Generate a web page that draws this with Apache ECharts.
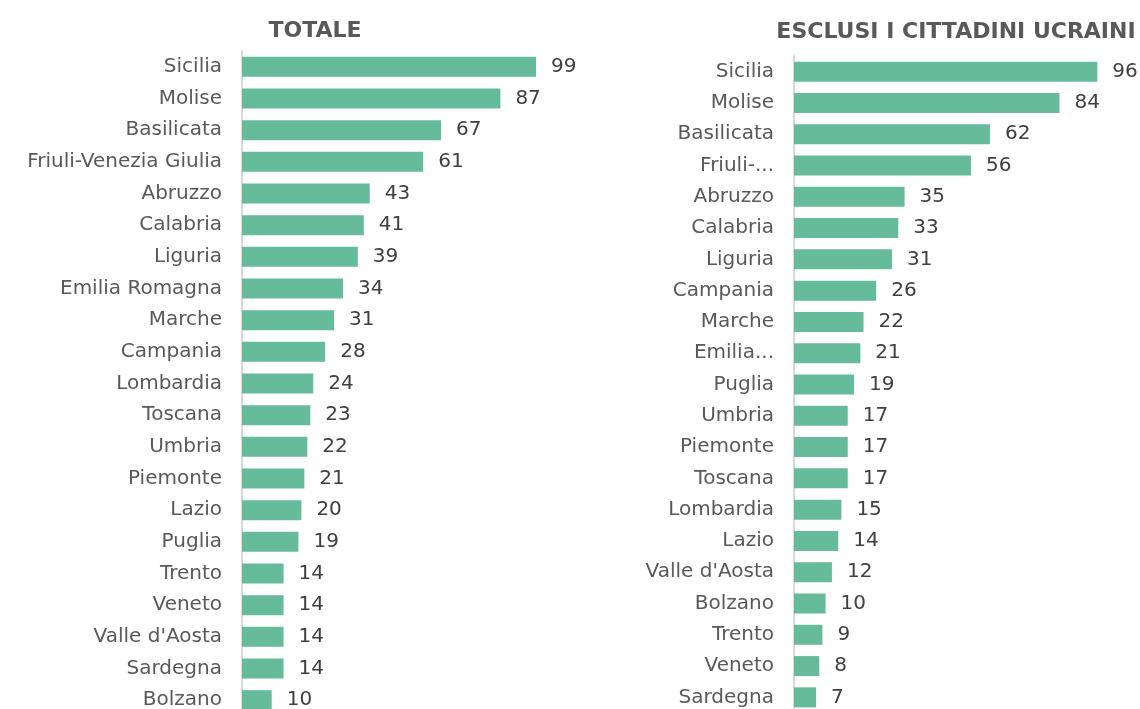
<!DOCTYPE html>
<html>
<head>
<meta charset="utf-8">
<script src="https://cdn.jsdelivr.net/npm/echarts@6/dist/echarts.min.js"></script>
<style>
  html, body { margin: 0; padding: 0; background: #fff; }
  #chart { width: 1140px; height: 709px; }
</style>
</head>
<body>
<div id="chart"></div>
<script>
var totCategories = ['Sicilia', 'Molise', 'Basilicata', 'Friuli-Venezia Giulia', 'Abruzzo', 'Calabria',
  'Liguria', 'Emilia Romagna', 'Marche', 'Campania', 'Lombardia', 'Toscana', 'Umbria', 'Piemonte',
  'Lazio', 'Puglia', 'Trento', 'Veneto', "Valle d'Aosta", 'Sardegna', 'Bolzano'];
var totValues = [99, 87, 67, 61, 43, 41, 39, 34, 31, 28, 24, 23, 22, 21, 20, 19, 14, 14, 14, 14, 10];

var exCategories = ['Sicilia', 'Molise', 'Basilicata', 'Friuli-...', 'Abruzzo', 'Calabria', 'Liguria',
  'Campania', 'Marche', 'Emilia...', 'Puglia', 'Umbria', 'Piemonte', 'Toscana', 'Lombardia', 'Lazio',
  "Valle d'Aosta", 'Bolzano', 'Trento', 'Veneto', 'Sardegna'];
var exValues = [96, 84, 62, 56, 35, 33, 31, 26, 22, 21, 19, 17, 17, 17, 15, 14, 12, 10, 9, 8, 7];

var font = 'DejaVu Sans';
var barColor = '#66bb9b';

function yAxisFor(idx, cats) {
  return {
    type: 'category',
    gridIndex: idx,
    data: cats,
    inverse: true,
    axisLine: { show: true, lineStyle: { color: '#d9d9d9', width: 2 } },
    axisTick: { show: false },
    axisLabel: { color: '#595959', fontSize: 20, fontFamily: font, margin: 20 }
  };
}

function xAxisFor(idx) {
  return {
    type: 'value',
    gridIndex: idx,
    min: 0,
    max: 100,
    show: false,
    splitLine: { show: false }
  };
}

function seriesFor(idx, vals) {
  return {
    type: 'bar',
    xAxisIndex: idx,
    yAxisIndex: idx,
    data: vals,
    barWidth: 20,
    itemStyle: { color: barColor },
    label: {
      show: true,
      position: 'right',
      distance: 15,
      color: '#404040',
      fontSize: 20,
      fontFamily: font
    },
    silent: true
  };
}

echarts.init(document.getElementById('chart')).setOption({
  animation: false,
  title: [
    {
      text: 'TOTALE',
      left: 310,
      top: 15,
      textAlign: 'center',
      textStyle: { color: '#595959', fontSize: 22, fontWeight: 'bold', fontFamily: font }
    },
    {
      text: 'ESCLUSI I CITTADINI UCRAINI',
      left: 951,
      top: 16,
      textAlign: 'center',
      textStyle: { color: '#595959', fontSize: 22, fontWeight: 'bold', fontFamily: font }
    }
  ],
  grid: [
    { left: 242, width: 297, top: 51, height: 665, outerBoundsMode: 'none' },
    { left: 794, width: 316, top: 56, height: 657, outerBoundsMode: 'none' }
  ],
  xAxis: [xAxisFor(0), xAxisFor(1)],
  yAxis: [yAxisFor(0, totCategories), yAxisFor(1, exCategories)],
  series: [seriesFor(0, totValues), seriesFor(1, exValues)]
});
</script>
</body>
</html>
